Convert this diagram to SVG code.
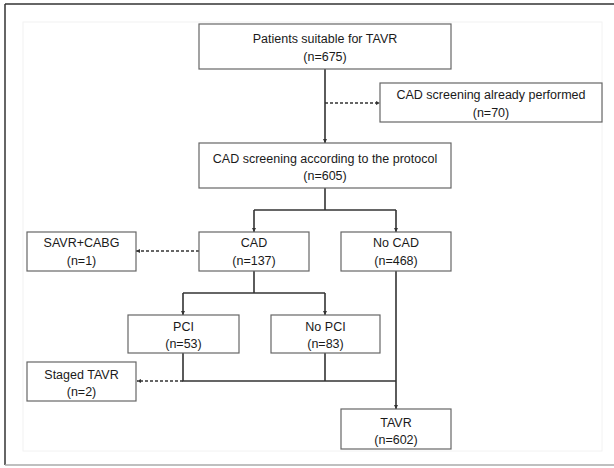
<svg xmlns="http://www.w3.org/2000/svg" width="614" height="468" viewBox="0 0 614 468">
<style>
.box{fill:#fff;stroke:#666;stroke-width:1.2}
text{font-family:"Liberation Sans",Arial,sans-serif;font-size:12.5px;fill:#1a1a1a;text-anchor:middle}
.ln{fill:none;stroke:#333;stroke-width:1.6}
.ds{fill:none;stroke:#333;stroke-width:1.3;stroke-dasharray:3,2}
</style>
<defs>
<marker id="ah" viewBox="0 0 6 6" refX="6" refY="3" markerWidth="4" markerHeight="4" orient="auto" markerUnits="userSpaceOnUse">
<path d="M0,0 L6,3 L0,6 z" fill="#333"/>
</marker>
</defs>
<rect x="0" y="0" width="614" height="468" fill="#fff"/>
<rect x="23" y="22" width="579" height="429" fill="none" stroke="#f2f2f2" stroke-width="1"/>
<line x1="5" y1="4" x2="614" y2="4" stroke="#333" stroke-width="1.5"/>
<line x1="5" y1="4" x2="5" y2="465" stroke="#333" stroke-width="1.5"/>
<line x1="5" y1="465" x2="614" y2="465" stroke="#aaa" stroke-width="1.5"/>

<g id="connectors">
<path class="ln" d="M325,69 V143" marker-end="url(#ah)"/>
<path class="ds" d="M325,103 H380" marker-end="url(#ah)"/>
<path class="ln" d="M325,188 V210"/>
<path class="ln" d="M254,210 H396"/>
<path class="ln" d="M254,210 V232" marker-end="url(#ah)"/>
<path class="ln" d="M396,210 V232" marker-end="url(#ah)"/>
<path class="ds" d="M199,251 H136" marker-end="url(#ah)"/>
<path class="ln" d="M254,271 V293"/>
<path class="ln" d="M183,293 H325"/>
<path class="ln" d="M183,293 V315" marker-end="url(#ah)"/>
<path class="ln" d="M325,293 V315" marker-end="url(#ah)"/>
<path class="ln" d="M183,353 V381 H396"/>
<path class="ln" d="M325,353 V381"/>
<path class="ln" d="M396,271 V409" marker-end="url(#ah)"/>
<path class="ds" d="M183,381 H137" marker-end="url(#ah)"/>
</g>

<g id="patients">
<rect class="box" x="199" y="24" width="252" height="45"/>
<text x="325" y="43">Patients suitable for TAVR</text>
<text x="325" y="61">(n=675)</text>
</g>
<g id="already">
<rect class="box" x="380" y="83" width="222" height="39"/>
<text x="491" y="99">CAD screening already performed</text>
<text x="491" y="117">(n=70)</text>
</g>
<g id="protocol">
<rect class="box" x="199" y="143" width="252" height="45"/>
<text x="325" y="163">CAD screening according to the protocol</text>
<text x="325" y="180">(n=605)</text>
</g>
<g id="savr">
<rect class="box" x="27" y="232" width="109" height="39"/>
<text x="81.5" y="247">SAVR+CABG</text>
<text x="81.5" y="265">(n=1)</text>
</g>
<g id="cad">
<rect class="box" x="199" y="232" width="110" height="39"/>
<text x="254" y="247">CAD</text>
<text x="254" y="265">(n=137)</text>
</g>
<g id="nocad">
<rect class="box" x="341" y="232" width="110" height="39"/>
<text x="396" y="247">No CAD</text>
<text x="396" y="265">(n=468)</text>
</g>
<g id="pci">
<rect class="box" x="128" y="315" width="111" height="38"/>
<text x="183.5" y="331">PCI</text>
<text x="183.5" y="348">(n=53)</text>
</g>
<g id="nopci">
<rect class="box" x="271" y="315" width="109" height="38"/>
<text x="325.5" y="331">No PCI</text>
<text x="325.5" y="348">(n=83)</text>
</g>
<g id="staged">
<rect class="box" x="27" y="362" width="109" height="39"/>
<text x="81.5" y="379">Staged TAVR</text>
<text x="81.5" y="396">(n=2)</text>
</g>
<g id="tavr">
<rect class="box" x="341" y="409" width="110" height="40"/>
<text x="396" y="427">TAVR</text>
<text x="396" y="444">(n=602)</text>
</g>
</svg>
